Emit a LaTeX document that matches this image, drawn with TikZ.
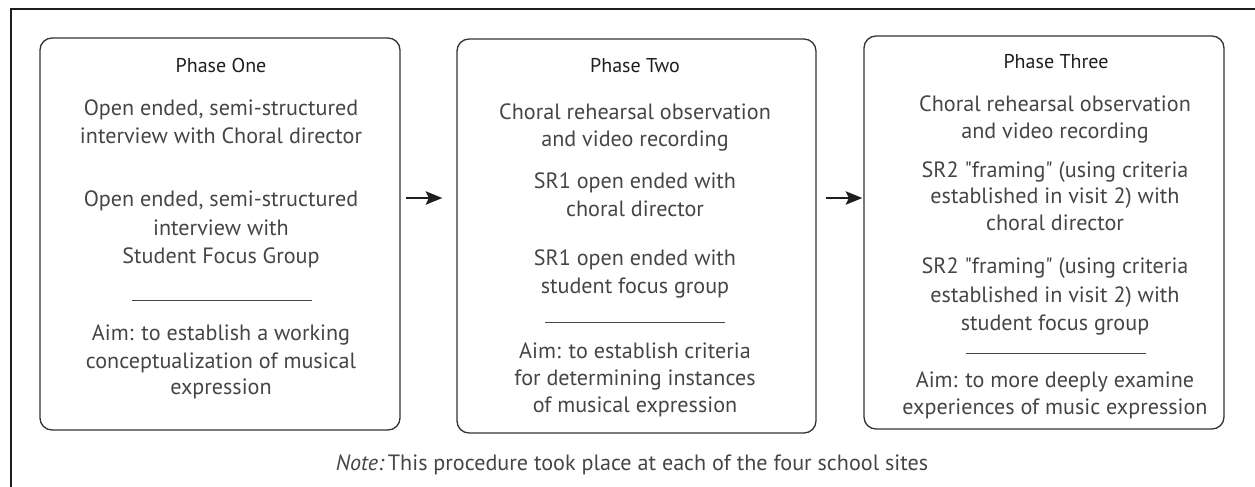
\documentclass[tikz,border=0pt]{standalone}
\usepackage{fontspec}
\setmainfont{PT Sans}[Ligatures=TeXOff]
\usetikzlibrary{arrows.meta,calc}
\definecolor{txt}{HTML}{454545}
\definecolor{ttl}{HTML}{1E1E1E}
\definecolor{edge}{HTML}{333333}
\begin{document}
\begin{tikzpicture}[x=0.75pt,y=-0.75pt,
  phase/.style={draw=edge, line width=1pt, rounded corners=9pt, inner sep=0pt},
  ttlt/.style={anchor=base, text=ttl, font=\fontsize{15}{18}\selectfont, inner sep=0pt},
  bodyt/.style={anchor=base, text=txt, font=\fontsize{16.6}{20}\selectfont, inner sep=0pt},
  sep/.style={draw=txt, line width=0.75pt},
  frame/.style={draw=ttl, line width=1.6pt},
  arr/.style={draw=ttl, line width=1.5pt, -{Stealth[length=12.5pt,width=10pt,inset=2.5pt]}}]
\useasboundingbox (0,0) rectangle (1255,486);
% outer frame (cropped)
\draw[frame] (1260,9) -- (11,9) -- (11,490);
% boxes
\node[phase, minimum width=270pt, minimum height=294pt] (p1) at (220,234) {};
\node[phase, minimum width=269.25pt, minimum height=295.5pt] (p2) at (636.5,236) {};
\node[phase, minimum width=270pt, minimum height=294.75pt] (p3) at (1044,232.5) {};
% arrows
\path (p1.east) ++(5,-36) coordinate (a1s);
\path (p2.west) ++(-14,-38) coordinate (a1e);
\path (p2.east) ++(9,-38) coordinate (a2s);
\path (p3.west) ++(-1,-34.5) coordinate (a2e);
\draw[arr] (a1s) -- (a1e);
\draw[arr] (a2s) -- (a2e);
% box 1
\node[ttlt] (t1) at (221,72) {Phase One};
\foreach \yy/\lbl [count=\i] in {115/{Open ended, semi-structured},143/{interview with Choral director},206/{Open ended, semi-structured},235/{interview with},263/{Student Focus Group},340/{Aim: to establish a working},368/{conceptualization of musical},394/{expression}}
  \node[bodyt] (b1l\i) at (221,\yy) {\lbl};
\draw[sep] (132,300) -- (312,300);
% box 2
\node[ttlt] (t2) at (635,72) {Phase Two};
\foreach \yy/\lbl [count=\i] in {119/{Choral rehearsal observation},146/{and video recording},188/{SR1 open ended with},216/{choral director},265/{SR1 open ended with},293/{student focus group},358/{Aim: to establish criteria},385/{for determining instances},412/{of musical expression}}
  \node[bodyt] (b2l\i) at (635,\yy) {\lbl};
\draw[sep] (545,322) -- (725,322);
% box 3
\node[ttlt] (t3) at (1056,68) {Phase Three};
\foreach \yy/\lbl [count=\i] in {111/{Choral rehearsal observation},138/{and video recording},177/{SR2 "framing" (using criteria},203/{established in visit 2) with},230/{choral director},273/{SR2 "framing" (using criteria},302/{established in visit 2) with},330/{student focus group},387/{Aim: to more deeply examine},414/{experiences of music expression}}
  \node[bodyt] (b3l\i) at (1055,\yy) {\lbl};
\draw[sep] (966,353) -- (1146,353);
% note
\node[bodyt] (note) at (632,470) {\textit{Note:}\hspace{0.15em}This procedure took place at each of the four school sites};
\end{tikzpicture}
\end{document}
